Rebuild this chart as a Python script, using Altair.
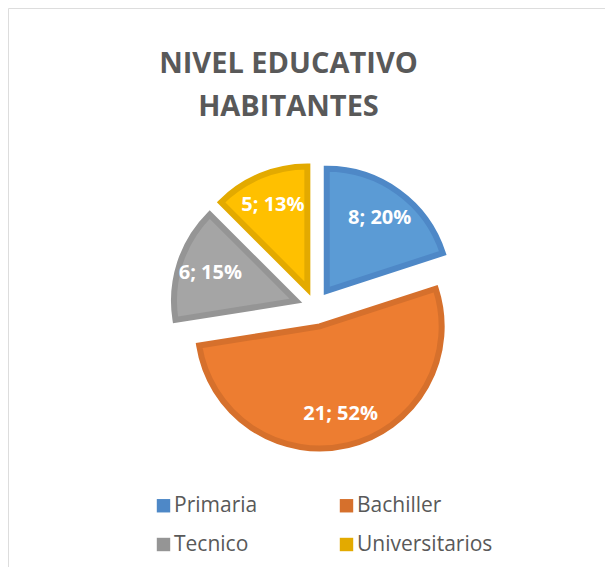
import altair as alt
import pandas as pd

categories = ["Primaria", "Bachiller", "Tecnico", "Universitarios"]
values = [8, 21, 6, 5]
percents = [20, 52, 15, 13]
fill_colors = ["#5B9BD5", "#ED7D31", "#A5A5A5", "#FFC000"]
edge_colors = ["#4E88C7", "#D6702C", "#959595", "#E3AA00"]

df = pd.DataFrame({
    "category": categories,
    "value": values,
    "pct": percents,
    "order": list(range(len(categories))),
    "fillc": fill_colors,
    "edgec": edge_colors,
})
total = sum(values)

CX, CY = 307, 299     # pie centre in the view (px)
EXPLODE = 20          # explosion distance (px)
R = 122
FONT = "Open Sans"

theta_scale = alt.Scale(domain=[0, total], range=[0, 6.283185307179586])
x_scale = alt.Scale(domain=[-1, 1], range=[CX - EXPLODE, CX + EXPLODE], nice=False, zero=False)
y_scale = alt.Scale(domain=[-1, 1], range=[CY - EXPLODE, CY + EXPLODE], nice=False, zero=False)

base = (
    alt.Chart(df)
    .transform_window(cum="sum(value)", sort=[alt.SortField("order")], frame=[None, 0])
    .transform_calculate(
        start="datum.cum - datum.value",
        midv="datum.cum - datum.value / 2",
        ang=f"(datum.cum - datum.value / 2) / {total} * 2 * PI",
    )
    .transform_calculate(
        ux="sin(datum.ang)",
        uy="-cos(datum.ang)",
        label="datum.value + '; ' + datum.pct + '%'",
    )
)

arcs = base.mark_arc(outerRadius=R, strokeWidth=6, strokeJoin="miter").encode(
    theta=alt.Theta("start:Q", scale=theta_scale),
    theta2="cum:Q",
    x=alt.X("ux:Q", scale=x_scale, axis=None),
    y=alt.Y("uy:Q", scale=y_scale, axis=None),
    fill=alt.Fill("fillc:N", scale=None),
    stroke=alt.Stroke("edgec:N", scale=None),
)

# legend-only layer (zero-size arcs)
legend_layer = base.mark_arc(outerRadius=0, strokeWidth=0).encode(
    theta=alt.Theta("start:Q", scale=theta_scale),
    theta2="cum:Q",
    x=alt.X("ux:Q", scale=x_scale, axis=None),
    y=alt.Y("uy:Q", scale=y_scale, axis=None),
    color=alt.Color(
        "category:N",
        scale=alt.Scale(domain=categories, range=edge_colors),
        sort=categories,
        legend=alt.Legend(
            title=None,
            orient="none",
            legendX=145,
            legendY=487,
            direction="horizontal",
            columns=2,
            symbolType="square",
            symbolSize=180,
            symbolStrokeWidth=0,
            symbolOpacity=1,
            labelFont=FONT,
            labelFontSize=21,
            labelColor="#595959",
            labelOffset=0,
            columnPadding=78,
            rowPadding=17,
            padding=0,
        ),
    ),
)

labels = base.mark_text(
    radius=90, font=FONT, fontSize=20, fontWeight="bold", color="white",
    align="center", baseline="middle",
).encode(
    theta=alt.Theta("midv:Q", scale=theta_scale),
    x=alt.X("ux:Q", scale=x_scale, axis=None),
    y=alt.Y("uy:Q", scale=y_scale, axis=None),
    text="label:N",
)

chart = (
    alt.layer(arcs, legend_layer, labels)
    .properties(
        width=597,
        height=559,
        autosize=alt.AutoSizeParams(type="none"),
        padding=0,
        title=alt.TitleParams(
            text=["NIVEL EDUCATIVO", "HABITANTES"],
            font=FONT,
            fontSize=29,
            fontWeight="bold",
            color="#595959",
            lineHeight=43,
            anchor="middle",
            offset=-114,
            dx=-18,
        ),
    )
    .configure_view(stroke="#D9D9D9", strokeWidth=1)
    .configure(background="white")
)

chart.save("out.html", embed_options={"renderer": "svg", "actions": False})
